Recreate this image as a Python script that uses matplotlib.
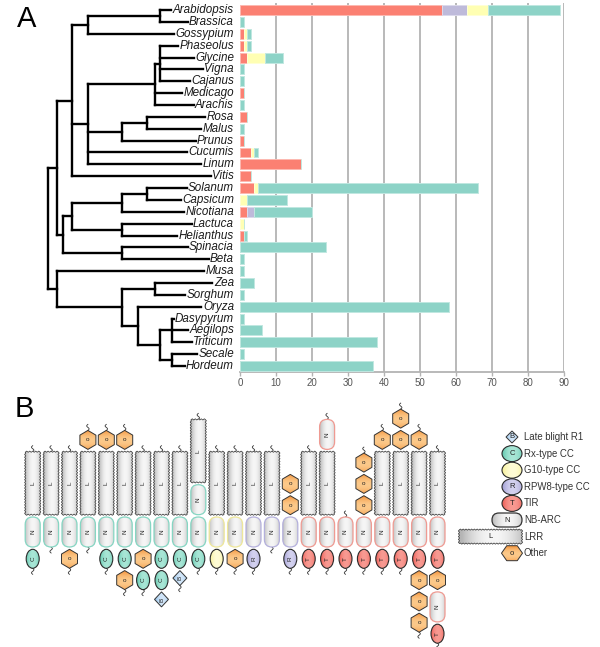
import numpy as np
import matplotlib
matplotlib.use('Agg')
import matplotlib.pyplot as plt
from matplotlib.patches import Ellipse, Polygon, FancyBboxPatch
from matplotlib.colors import to_rgb

plt.rcParams['font.family'] = ['Liberation Sans', 'DejaVu Sans']

# ---------------- Panel A data ----------------
species = ['Arabidopsis', 'Brassica', 'Gossypium', 'Phaseolus', 'Glycine', 'Vigna',
           'Cajanus', 'Medicago', 'Arachis', 'Rosa', 'Malus', 'Prunus', 'Cucumis',
           'Linum', 'Vitis', 'Solanum', 'Capsicum', 'Nicotiana', 'Lactuca',
           'Helianthus', 'Spinacia', 'Beta', 'Musa', 'Zea', 'Sorghum', 'Oryza',
           'Dasypyrum', 'Aegilops', 'Triticum', 'Secale', 'Hordeum']
tir = [56, 0, 1, 1, 2, 0, 0, 1, 0, 2, 0, 1, 3, 17, 3, 4, 0, 2, 0, 1, 0, 0, 0, 0, 0, 0, 0, 0, 0, 0, 0]
rpw8 = [7, 0, 0, 0, 0, 0, 0, 0, 0, 0, 0, 0, 0, 0, 0, 0, 0, 2, 0, 0, 0, 0, 0, 0, 0, 0, 0, 0, 0, 0, 0]
g10 = [6, 0, 1, 1, 5, 0, 0, 0, 0, 0, 0, 0, 1, 0, 0, 1, 2, 0, 1, 0, 0, 0, 0, 0, 0, 0, 0, 0, 0, 0, 0]
rx = [20, 1, 1, 1, 5, 1, 1, 0, 1, 0, 1, 0, 1, 0, 0, 61, 11, 16, 0, 1, 24, 1, 1, 4, 1, 58, 1, 6, 38, 1, 37]
x_ticks = list(range(0, 91, 10))
bar_colors = ['#FB8072', '#BEBADA', '#FFFFB3', '#8DD3C7']

# tree: (node depth, children); leaves are species names
tree = (48, [
    (57, [
        (72, [
            (88, [(160, ['Arabidopsis', 'Brassica']), 'Gossypium']),
            (88, [
                (155, [(160, ['Phaseolus', 'Glycine', 'Vigna', 'Cajanus']), 'Medicago', 'Arachis']),
                (122, [(147, ['Rosa', 'Malus']), 'Prunus']),
                'Cucumis', 'Linum']),
            'Vitis']),
        (63, [
            (72, [
                (122, [(147, ['Solanum', 'Capsicum']), 'Nicotiana']),
                (122, ['Lactuca', 'Helianthus'])]),
            (122, ['Spinacia', 'Beta'])])]),
    (57, ['Musa',
          (122, [(155, ['Zea', 'Sorghum']),
                 (138, ['Oryza',
                        (160, [(172, ['Dasypyrum', 'Aegilops', 'Triticum']),
                               (172, ['Secale', 'Hordeum'])])])])])])

# ---------------- Panel B data ----------------
# each column: (domains above the NB-ARC, NB-ARC outline type, domains below)
columns = [
    (['L'], 'C', ['C']), (['L'], 'C', []), (['L'], 'C', ['O']), (['O', 'L'], 'C', []),
    (['O', 'L'], 'C', ['C']), (['O', 'L'], 'C', ['C', 'O']), (['L'], 'C', ['O', 'C']),
    (['L'], 'C', ['C', 'C', 'B']), (['L'], 'C', ['C', 'B']), (['L', 'N'], 'C', ['C']),
    (['L'], 'G', ['G']), (['L'], 'G', ['O']), (['L'], 'R', ['R']), (['L'], 'R', []),
    (['O', 'O'], 'R', ['R']), (['L'], 'T', ['T']), (['N', 'L'], 'T', ['T']),
    ([], 'T', ['T']), (['O', 'O', 'O'], 'T', ['T']), (['O', 'L'], 'T', ['T']),
    (['O', 'O', 'L'], 'T', ['T']), (['O', 'L'], 'T', ['T', 'O', 'O', 'O']),
    (['L'], 'T', ['T', 'O', 'N', 'T']),
]
legend_codes = ['B', 'C', 'G', 'R', 'T', 'N', 'L', 'O']
legend_labels = ['Late blight R1', 'Rx-type CC', 'G10-type CC', 'RPW8-type CC',
                 'TIR', 'NB-ARC', 'LRR', 'Other']

fill = {'C': ('#5fc7ad', '#a8e6d6'), 'G': ('#f6ef92', '#fffcd6'),
        'R': ('#9e9bd2', '#d3d1ef'), 'T': ('#ec5a52', '#f89a92'),
        'O': ('#f3923a', '#fcc98a'), 'B': ('#8fbfea', '#d2e6f9'),
        'L': ('#b5b5b5', '#f6f6f6'), 'N': ('#bdbdbd', '#f6f6f6')}
n_edge = {'C': '#86d6c3', 'G': '#eee79a', 'R': '#b4b0dc', 'T': '#ef9a92'}
heights = {'L': 63, 'N': 30, 'C': 19, 'G': 19, 'R': 19, 'T': 19, 'O': 19, 'B': 15}
widths = {'L': 15, 'N': 15, 'C': 13, 'G': 13, 'R': 13, 'T': 13, 'O': 16, 'B': 14}
letters = {'L': 'L', 'N': 'N', 'C': 'C', 'G': '', 'R': 'R', 'T': 'T', 'O': 'o', 'B': 'B'}

# ---------------- figure ----------------
W, H = 600, 647
fig = plt.figure(figsize=(W / 100, H / 100), dpi=100)
top_px, bot_px = 3, 372
axb = fig.add_axes([240 / W, 1 - bot_px / H, 324 / W, (bot_px - top_px) / H])
ypos = np.arange(len(species))
left = np.zeros(len(species))
for vals, col in zip([tir, rpw8, g10, rx], bar_colors):
    vals = np.array(vals, dtype=float)
    ec = 0.55 * np.array(to_rgb(col)) + 0.45
    axb.barh(ypos, vals, left=left, height=0.84, color=col, edgecolor=ec,
             linewidth=0.7, zorder=3)
    left += vals
for t in x_ticks[1:]:
    axb.axvline(t, color='#b3b3b3', lw=1.3, zorder=1)
axb.set_xlim(0, 90)
axb.set_ylim(len(species) - 0.5, -0.6)
axb.set_xticks(x_ticks)
axb.set_yticks([])
for s in ['left', 'top', 'right']:
    axb.spines[s].set_visible(False)
axb.spines['bottom'].set_color('#b3b3b3')
axb.spines['bottom'].set_linewidth(1.3)
axb.tick_params(axis='x', colors='#b3b3b3', length=3, width=1, labelsize=7,
                labelcolor='#555555', pad=1.5)

axd = fig.add_axes([0, 1 - bot_px / H, 240 / W, (bot_px - top_px) / H])
axd.set_xlim(0, 240)
axd.set_ylim(len(species) - 0.5, -0.6)
axd.axis('off')
texts = []
for i, sp in enumerate(species):
    texts.append(axd.text(234, i, sp, ha='right', va='center', style='italic',
                          fontsize=8.4, color='#1a1a1a'))
fig.canvas.draw()
rend = fig.canvas.get_renderer()
inv = axd.transData.inverted()
leaf_end = {}
for sp, t in zip(species, texts):
    bb = t.get_window_extent(rend)
    leaf_end[sp] = inv.transform((bb.x0, 0))[0] - 1.5

lw_tree = 1.7


def draw_tree(node):
    if isinstance(node, str):
        return species.index(node), leaf_end[node]
    depth, children = node
    res = [draw_tree(c) for c in children]
    ys = [r[0] for r in res]
    for (cy, cx) in res:
        axd.plot([depth, cx], [cy, cy], color='k', lw=lw_tree, solid_capstyle='projecting')
    axd.plot([depth, depth], [ys[0], ys[-1]], color='k', lw=lw_tree, solid_capstyle='projecting')
    return (ys[0] + ys[-1]) / 2, depth


draw_tree(tree)

fig.text(17 / W, 1 - 27 / H, 'A', fontsize=21, ha='left', va='baseline')
fig.text(15 / W, 1 - 417 / H, 'B', fontsize=21, ha='left', va='baseline')

# ---------------- Panel B ----------------
axo = fig.add_axes([0, 0, 1, 1])
axo.axis('off')


def grad_image(ax, patch, key, x0, x1, y0, y1, vertical=True, z=5):
    c0 = np.array(to_rgb(fill[key][0]))
    c1 = np.array(to_rgb(fill[key][1]))
    t = np.linspace(-1, 1, 48)
    w = np.clip(1 - (t - 0.1) ** 2, 0, 1)
    arr = c0[None, :] * (1 - w[:, None]) + c1[None, :] * w[:, None]
    img = arr[None, :, :] if vertical else arr[:, None, :]
    im = ax.imshow(img, extent=(x0, x1, y1, y0), aspect='auto',
                   interpolation='bilinear', zorder=z - 0.1)
    im.set_clip_path(patch)


def zigzag(x0, y0, x1, y1, amp=0.6, step=1.4):
    pts = []
    corners = [((x0, y0), (x1, y0), (0, -1)), ((x1, y0), (x1, y1), (1, 0)),
               ((x1, y1), (x0, y1), (0, 1)), ((x0, y1), (x0, y0), (-1, 0))]
    for p, q, nrm in corners:
        p = np.array(p, float)
        q = np.array(q, float)
        n = max(int(np.hypot(*(q - p)) / step), 2)
        for k in range(n):
            b = p + (q - p) * k / n
            off = amp if k % 2 else -amp
            pts.append(b + np.array(nrm) * off)
    return Polygon(pts, closed=True)


def tail(ax, x, y, direction):
    t = np.linspace(0, 1, 25)
    ax.plot(x + 1.2 * np.sin(2 * np.pi * t), y + direction * 6 * t, color='#333333',
            lw=0.6, zorder=4)


def draw_dom(ax, key, cx, cy, w, h, vertical=True, edge=None, z=5):
    x0, x1, y0, y1 = cx - w / 2, cx + w / 2, cy - h / 2, cy + h / 2
    if key == 'L':
        p = zigzag(x0, y0, x1, y1)
        p.set(facecolor='none', edgecolor='#3c3c3c', lw=0.55)
    elif key == 'N':
        r = (w if vertical else h) / 2
        p = FancyBboxPatch((x0, y0), w, h, boxstyle=f'round,pad=0,rounding_size={r}',
                           facecolor='none', edgecolor=edge or '#333333', lw=0.9)
    elif key == 'O':
        if vertical:
            pts = [(cx, y0), (x1, cy - h / 4), (x1, cy + h / 4), (cx, y1),
                   (x0, cy + h / 4), (x0, cy - h / 4)]
        else:
            pts = [(x0, cy), (cx - w / 4, y0), (cx + w / 4, y0), (x1, cy),
                   (cx + w / 4, y1), (cx - w / 4, y1)]
        p = Polygon(pts, closed=True, facecolor='none', edgecolor='#333333', lw=0.7)
    elif key == 'B':
        p = Polygon([(cx, y0), (x1, cy), (cx, y1), (x0, cy)], closed=True,
                    facecolor='none', edgecolor='#333333', lw=0.7)
    else:
        p = Ellipse((cx, cy), w, h, facecolor='none', edgecolor='#2a2a2a', lw=0.8)
    p.set_zorder(z)
    ax.add_patch(p)
    grad_image(ax, p, key, x0 - 1, x1 + 1, y0 - 1, y1 + 1, vertical=(key != 'O'), z=z)
    lt = letters[key]
    if lt:
        rot = 90 if (vertical and key not in 'O') else 0
        ax.text(cx, cy, lt, ha='center', va='center', fontsize=4.6 if vertical else 5.5,
                rotation=rot, color='#222222', zorder=z + 1)


x_first, x_step = 32.7, 18.4
n_top, n_bot = 517, 547
gap = 2.3
for i, (above, ntype, below) in enumerate(columns):
    cx = x_first + x_step * i
    draw_dom(axo, 'N', cx, (n_top + n_bot) / 2, 15, n_bot - n_top, edge=n_edge[ntype])
    cur = n_top
    for key in reversed(above):
        b = cur - gap
        t = b - heights[key]
        draw_dom(axo, key, cx, (t + b) / 2, widths[key], heights[key],
                 edge=n_edge[ntype])
        cur = t
    if ntype != 'R' or above[-1:] != ['O']:
        tail(axo, cx, cur, -1)
    cur = n_bot
    for key in below:
        t = cur + gap
        b = t + heights[key]
        draw_dom(axo, key, cx, (t + b) / 2, widths[key], heights[key],
                 edge=n_edge[ntype])
        cur = b
    if below[-1:] != ['B'] or len(below) < 3:
        tail(axo, cx, cur, 1)

# legend
leg_y0, leg_dy = 437, 16.6
leg_sizes = {'B': (12, 12), 'C': (20, 16), 'G': (20, 16), 'R': (20, 16), 'T': (20, 16),
             'N': (30, 14), 'L': (63, 14), 'O': (21, 15)}
for j, (key, lab) in enumerate(zip(legend_codes, legend_labels)):
    y = leg_y0 + leg_dy * j
    w, h = leg_sizes[key]
    cx = 522 - w / 2 if key in 'NL' else 512
    draw_dom(axo, key, cx, y, w, h, vertical=False, edge='#333333')
    axo.text(524, y, lab, ha='left', va='center', fontsize=6.9, color='#333333')

axo.set_xlim(0, W)
axo.set_ylim(H, 0)

fig.savefig('out.png', dpi=100)
